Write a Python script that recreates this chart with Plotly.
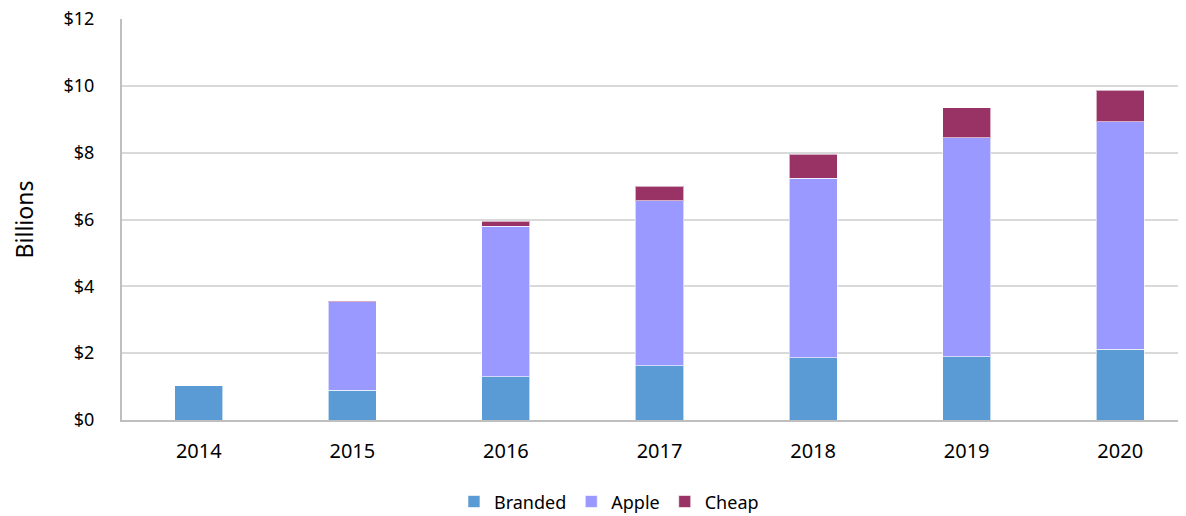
import plotly.graph_objects as go

years = ["2014", "2015", "2016", "2017", "2018", "2019", "2020"]
branded = [1.03, 0.89, 1.30, 1.63, 1.87, 1.90, 2.12]
apple = [0, 2.65, 4.50, 4.93, 5.37, 6.55, 6.80]
cheap = [0, 0.03, 0.15, 0.44, 0.71, 0.89, 0.95]

tick_vals = [0, 2, 4, 6, 8, 10, 12]
tick_text = ["$0", "$2", "$4", "$6", "$8", "$10", "$12"]

series = [
    ("Branded", branded, "#5B9BD5"),
    ("Apple", apple, "#9999FF"),
    ("Cheap", cheap, "#993366"),
]

fig = go.Figure()
for name, vals, color in series:
    fig.add_trace(go.Bar(
        x=years, y=vals, name=name,
        marker=dict(color=color, line=dict(color="rgba(255,255,255,0.6)", width=1)),
    ))

# page body has an 8px margin; the reference plot area runs a little past the right edge
fig.update_layout(
    barmode="stack",
    bargap=0.687,
    width=1189, height=508,
    margin=dict(l=114, r=0, t=11, b=96, autoexpand=False),
    paper_bgcolor="white",
    plot_bgcolor="white",
    font=dict(family="Noto Sans, Open Sans, sans-serif", size=19, color="#000"),
    xaxis=dict(
        showline=True, linecolor="#BFBFBF", linewidth=2,
        ticks="", ticklabelstandoff=12, tickfont=dict(size=20),
    ),
    yaxis=dict(
        range=[0, 12], tickvals=tick_vals, ticktext=tick_text,
        showgrid=True, gridcolor="#D9D9D9", gridwidth=2,
        showline=True, linecolor="#BFBFBF", linewidth=2,
        zeroline=False, ticks="", ticklabelstandoff=22,
        tickfont=dict(size=18), ticklabeloverflow="allow",
        title=dict(text="Billions", font=dict(size=23), standoff=31),
    ),
    legend=dict(
        orientation="h", x=0.453, xanchor="center", y=-0.204, yanchor="middle",
        font=dict(size=18), traceorder="normal",
    ),
    showlegend=True,
)

fig.write_html("out.html")
